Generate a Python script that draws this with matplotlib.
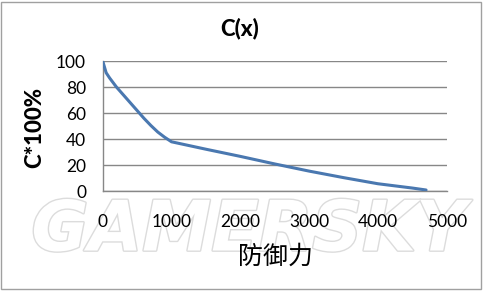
import matplotlib
matplotlib.use("Agg")
import matplotlib.pyplot as plt
from matplotlib.patches import Rectangle
import matplotlib.patheffects as pe

defense = [0, 50, 100, 200, 300, 400, 500, 600, 700, 800, 900, 1000,
           1500, 2000, 2500, 3000, 3500, 4000, 4500, 4700]
c_pct = [100, 91, 87, 80, 74, 68, 62, 56, 50.5, 45.5, 41.5, 38,
         32.3, 26.8, 21, 15.5, 10.5, 5.8, 2.5, 1]
x_ticks = [0, 1000, 2000, 3000, 4000, 5000]
y_ticks = [0, 20, 40, 60, 80, 100]
title = "C(x)"
xlabel = "防御力"
ylabel = "C*100%"

plt.rcParams['font.family'] = ['Lato', 'Noto Sans CJK SC', 'DejaVu Sans']

W, H = 491, 298
fig = plt.figure(figsize=(W / 100, H / 100), dpi=100)

# watermark (drawn beneath everything)
fig.text(249 / W, 1 - 231 / H, "GAMERSKY", fontsize=50, fontweight='bold',
         fontstyle='italic', family=['DejaVu Sans'], color='white',
         ha='center', va='center', zorder=-5,
         path_effects=[pe.withStroke(linewidth=2.0, foreground='#dcdcdc')])

ax = fig.add_axes([102.7 / W, 1 - 191.3 / H, (446.7 - 102.7) / W, (191.3 - 61) / H])
ax.set_zorder(2)

# border around figure
fig.patches.append(Rectangle((1 / W, 1 - 289 / H), 480 / W, 287 / H,
                             transform=fig.transFigure, fill=False,
                             edgecolor='#a0a0a0', linewidth=1.0))

ax.plot(defense, c_pct, color='#4a78b0', linewidth=2.2, solid_capstyle='round', zorder=3)

ax.set_xlim(0, 5000)
ax.set_ylim(0, 100)
ax.set_xticks(x_ticks)
ax.set_yticks(y_ticks)
ax.yaxis.grid(True, color='#878787', linewidth=1.0)
ax.set_axisbelow(True)
for s in ['top', 'right']:
    ax.spines[s].set_visible(False)
for s in ['left', 'bottom']:
    ax.spines[s].set_color('#878787')
    ax.spines[s].set_linewidth(1.0)
ax.patch.set_alpha(0)
ax.tick_params(axis='both', length=0, labelsize=12.5, colors='black')
ax.tick_params(axis='y', pad=12)
ax.tick_params(axis='x', pad=16)

fig.text(240 / W, 1 - 28 / H, title, fontsize=16, fontweight=900,
         ha='center', va='center')
fig.text(35 / W, 1 - 127 / H, ylabel, fontsize=16, fontweight=900,
         rotation=90, ha='center', va='center')
fig.text(275 / W, 1 - 257 / H, xlabel, fontsize=18, ha='center', va='center',
         family=['Noto Sans CJK SC', 'DejaVu Sans'])

fig.savefig("out.png", dpi=100)
